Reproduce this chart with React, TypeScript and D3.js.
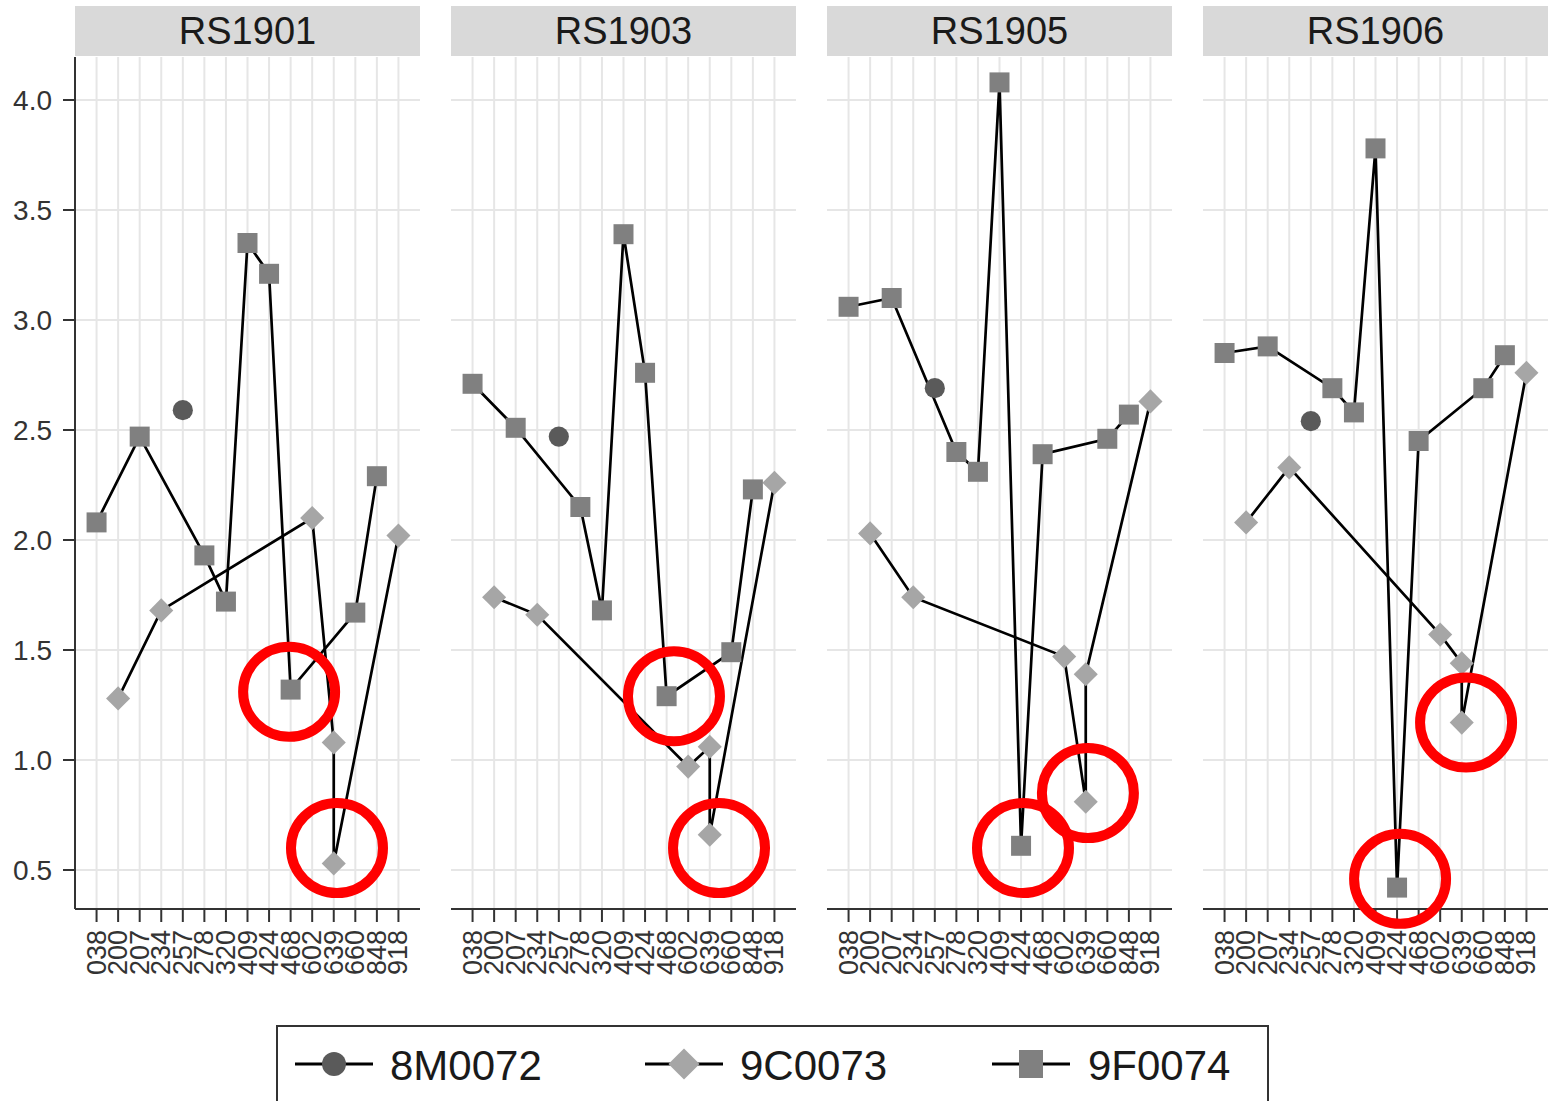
import * as d3 from "d3";

// ---------------------------------------------------------------------------
// Data
// ---------------------------------------------------------------------------

const categories = ["038", "200", "207", "234", "257", "278", "320", "409", "424", "468", "602", "639", "660", "848", "918"];
const panelNames = ["RS1901", "RS1903", "RS1905", "RS1906"];
const yTicks = [0.5, 1.0, 1.5, 2.0, 2.5, 3.0, 3.5, 4.0];
const seriesNames = ["8M0072", "9C0073", "9F0074"];

type Pt = [string, number];

// 8M0072 (circle)
const m8_RS1901: Pt[] = [["257", 2.59]];
const m8_RS1903: Pt[] = [["257", 2.47]];
const m8_RS1905: Pt[] = [["257", 2.69]];
const m8_RS1906: Pt[] = [["257", 2.54]];

// 9C0073 (diamond) — 639 has two readings, kept in drawing order
const c9_RS1901: Pt[] = [["200", 1.28], ["234", 1.68], ["602", 2.1], ["639", 1.08], ["639", 0.53], ["918", 2.02]];
const c9_RS1903: Pt[] = [["200", 1.74], ["234", 1.66], ["602", 0.97], ["639", 1.06], ["639", 0.66], ["918", 2.26]];
const c9_RS1905: Pt[] = [["200", 2.03], ["234", 1.74], ["602", 1.47], ["639", 0.81], ["639", 1.39], ["918", 2.63]];
const c9_RS1906: Pt[] = [["200", 2.08], ["234", 2.33], ["602", 1.57], ["639", 1.44], ["639", 1.17], ["918", 2.76]];

// 9F0074 (square)
const f9_RS1901: Pt[] = [["038", 2.08], ["207", 2.47], ["278", 1.93], ["320", 1.72], ["409", 3.35], ["424", 3.21], ["468", 1.32], ["660", 1.67], ["848", 2.29]];
const f9_RS1903: Pt[] = [["038", 2.71], ["207", 2.51], ["278", 2.15], ["320", 1.68], ["409", 3.39], ["424", 2.76], ["468", 1.29], ["660", 1.49], ["848", 2.23]];
const f9_RS1905: Pt[] = [["038", 3.06], ["207", 3.1], ["278", 2.4], ["320", 2.31], ["409", 4.08], ["424", 0.61], ["468", 2.39], ["660", 2.46], ["848", 2.57]];
const f9_RS1906: Pt[] = [["038", 2.85], ["207", 2.88], ["278", 2.69], ["320", 2.58], ["409", 3.78], ["424", 0.42], ["468", 2.45], ["660", 2.69], ["848", 2.84]];

// red highlight rings: [panel, category position (index units), value]
const highlights: [string, number, number][] = [
  ["RS1901", 8.93, 1.31],
  ["RS1901", 11.15, 0.6],
  ["RS1903", 9.34, 1.29],
  ["RS1903", 11.43, 0.6],
  ["RS1905", 8.09, 0.6],
  ["RS1905", 11.1, 0.85],
  ["RS1906", 11.2, 1.17],
  ["RS1906", 8.14, 0.46],
];

const panelSeries: Record<string, Pt[][]> = {
  RS1901: [m8_RS1901, c9_RS1901, f9_RS1901],
  RS1903: [m8_RS1903, c9_RS1903, f9_RS1903],
  RS1905: [m8_RS1905, c9_RS1905, f9_RS1905],
  RS1906: [m8_RS1906, c9_RS1906, f9_RS1906],
};

// ---------------------------------------------------------------------------
// Layout / style
// ---------------------------------------------------------------------------

const W = 1549;
const H = 1101;
const FONT = "'Liberation Sans', Arial, sans-serif";
const panelW = 345;
const panelGap = 31;
const firstLeft = 75;
const stripTop = 6;
const stripBottom = 56;
const plotTop = 57;
const plotBottom = 909;

const FILLS = ["#5a5a5a", "#a6a6a6", "#808080"];
const SHAPES = [d3.symbolCircle, d3.symbolDiamond2, d3.symbolSquare];
const SIZES = [320, 370, 400];

const y = d3.scaleLinear().domain([0.5, 4.0]).range([870, 100]);

function catIndex(c: string) {
  return categories.indexOf(c);
}

export default function App() {
  const line = (xs: d3.ScaleLinear<number, number>) =>
    d3
      .line<Pt>()
      .x((d) => xs(catIndex(d[0])))
      .y((d) => y(d[1]));

  const legendItems = [
    { lx: 295, tx: 390 },
    { lx: 645, tx: 740 },
    { lx: 992, tx: 1088 },
  ];

  return (
    <svg
      width={W}
      height={H}
      style={{ position: "absolute", left: 0, top: 0, background: "#fff" }}
      fontFamily={FONT}
    >
      {panelNames.map((name, pi) => {
        const left = firstLeft + pi * (panelW + panelGap);
        const x = d3.scaleLinear().domain([-1, categories.length]).range([left, left + panelW]);
        const lg = line(x);
        const series = panelSeries[name];
        return (
          <g key={name}>
            {/* strip */}
            <rect x={left} y={stripTop} width={panelW} height={stripBottom - stripTop} fill="#d9d9d9" />
            <text
              x={left + panelW / 2}
              y={44}
              textAnchor="middle"
              fontSize={38}
              fill="#1a1a1a"
            >
              {name}
            </text>

            {/* grid */}
            {yTicks.map((t) => (
              <line key={"h" + t} x1={left} x2={left + panelW} y1={y(t)} y2={y(t)} stroke="#e6e6e6" strokeWidth={2} />
            ))}
            {categories.map((c, i) => (
              <line key={"v" + c} x1={x(i)} x2={x(i)} y1={plotTop} y2={plotBottom} stroke="#e6e6e6" strokeWidth={2} />
            ))}

            {/* x axis */}
            <line x1={left} x2={left + panelW} y1={plotBottom} y2={plotBottom} stroke="#333" strokeWidth={2} />
            {categories.map((c, i) => (
              <g key={"t" + c}>
                <line x1={x(i)} x2={x(i)} y1={plotBottom} y2={plotBottom + 13} stroke="#333" strokeWidth={2} />
                <text
                  transform={`translate(${x(i)},${plotBottom + 21}) rotate(-90)`}
                  textAnchor="end"
                  dominantBaseline="central"
                  fontSize={27}
                  fill="#333"
                >
                  {c}
                </text>
              </g>
            ))}

            {/* y axis on first panel */}
            {pi === 0 && (
              <g>
                <line x1={left} x2={left} y1={plotTop} y2={plotBottom} stroke="#333" strokeWidth={2} />
                {yTicks.map((t) => (
                  <g key={"y" + t}>
                    <line x1={left - 12} x2={left} y1={y(t)} y2={y(t)} stroke="#333" strokeWidth={2} />
                    <text x={52} y={y(t)} textAnchor="end" dominantBaseline="central" fontSize={28} fill="#333">
                      {t.toFixed(1)}
                    </text>
                  </g>
                ))}
              </g>
            )}

            {/* lines */}
            {series.map((s, si) =>
              s.length > 1 ? (
                <path key={"l" + si} d={lg(s) ?? ""} fill="none" stroke="#000" strokeWidth={2.7} />
              ) : null
            )}

            {/* points */}
            {series.map((s, si) =>
              s.map((d, k) => (
                <path
                  key={"p" + si + "-" + k}
                  transform={`translate(${x(catIndex(d[0]))},${y(d[1])})`}
                  d={d3.symbol(SHAPES[si], SIZES[si])() ?? ""}
                  fill={FILLS[si]}
                />
              ))
            )}

            {/* highlight rings */}
            {highlights
              .filter((h) => h[0] === name)
              .map((h, k) => (
                <ellipse
                  key={"r" + k}
                  cx={x(h[1])}
                  cy={y(h[2])}
                  rx={46}
                  ry={45}
                  fill="none"
                  stroke="#ff0000"
                  strokeWidth={10}
                />
              ))}
          </g>
        );
      })}

      {/* legend */}
      <rect x={277} y={1026} width={991} height={90} fill="#fff" stroke="#333" strokeWidth={2} />
      {seriesNames.map((s, i) => {
        const it = legendItems[i];
        const cx = it.lx + 39;
        return (
          <g key={s}>
            <line x1={it.lx} x2={it.lx + 78} y1={1064} y2={1064} stroke="#000" strokeWidth={3} />
            {i === 0 && <circle cx={cx} cy={1064} r={12} fill={FILLS[0]} />}
            {i === 1 && (
              <path transform={`translate(${cx},1064)`} d={d3.symbol(d3.symbolDiamond2, 620)() ?? ""} fill={FILLS[1]} />
            )}
            {i === 2 && <rect x={cx - 12} y={1050} width={24} height={28} fill={FILLS[2]} />}
            <text x={it.tx} y={1080} fontSize={42} fill="#1a1a1a">
              {s}
            </text>
          </g>
        );
      })}
    </svg>
  );
}
